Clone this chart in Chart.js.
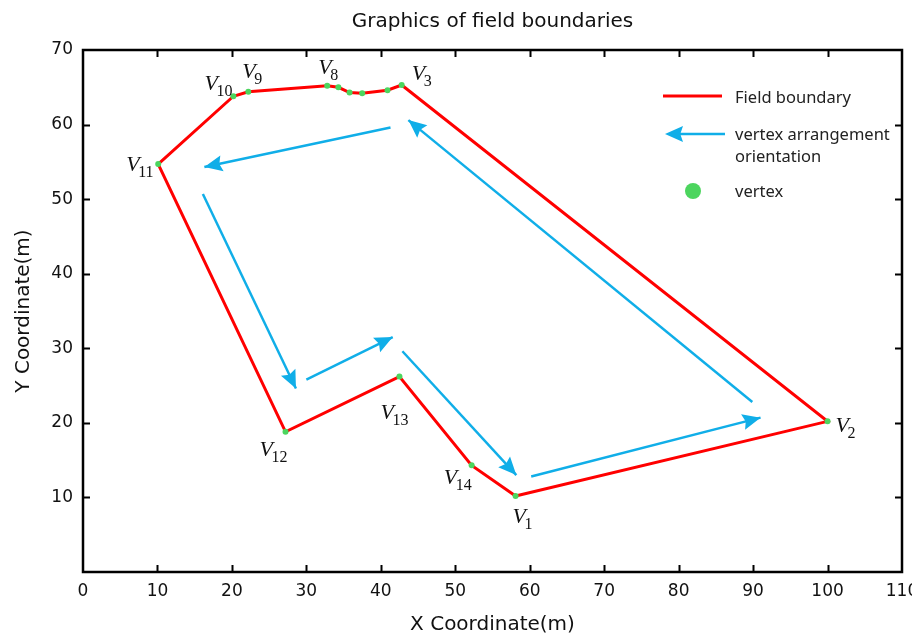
<!DOCTYPE html>
<html>
<head>
<meta charset="utf-8">
<script src="https://cdn.jsdelivr.net/npm/chart.js@4/dist/chart.umd.min.js"></script>
<style>
html,body{margin:0;padding:0;background:#fff;}
#wrap{width:912px;height:639px;}
</style>
</head>
<body>
<div id="wrap"><canvas id="c" width="912" height="639"></canvas></div>
<script>
// boundary vertices in drawing order (V1 .. V14, then back to V1)
const vertexX = [58.1, 100, 42.8, 40.9, 37.5, 35.8, 34.3, 32.8, 22.2, 20.2, 10.1, 27.2, 42.5, 52.2];
const vertexY = [10.2, 20.2, 65.3, 64.6, 64.2, 64.3, 65.0, 65.2, 64.4, 63.8, 54.7, 18.8, 26.2, 14.3];
const vertexNames = ['1', '2', '3', '', '', '', '', '8', '9', '10', '11', '12', '13', '14'];

// orientation arrows: start and tip
const arrowFromX = [60.2, 89.9, 41.3, 16.1, 30.0, 42.9];
const arrowFromY = [12.8, 22.8, 59.6, 50.7, 25.8, 29.6];
const arrowToX   = [91.0, 43.7, 16.3, 28.6, 41.6, 58.2];
const arrowToY   = [20.7, 60.6, 54.3, 24.6, 31.5, 13.0];

const xTicks = [0, 10, 20, 30, 40, 50, 60, 70, 80, 90, 100, 110];
const yTicks = [10, 20, 30, 40, 50, 60, 70];

const RED = '#ff0000', BLUE = '#10aee8', GREEN = '#4cd55e';

// label placement relative to the vertex pixel (V left edge, baseline)
const labelOffsets = {
  '1': [-3, 27], '2': [8, 11], '3': [10, -5], '8': [-9, -12], '9': [-6, -14],
  '10': [-29, -6], '11': [-32, 7], '12': [-26, 24], '13': [-19, 42], '14': [-28, 19]
};

const boundaryPts = vertexX.map((x, i) => ({x: x, y: vertexY[i]}));
boundaryPts.push({x: vertexX[0], y: vertexY[0]});

const datasets = [];
datasets.push({ label: 'vertex', data: vertexX.map((x, i) => ({x: x, y: vertexY[i]})),
  showLine: false, pointRadius: 3, pointBackgroundColor: GREEN, pointBorderWidth: 0, order: 0 });
datasets.push({ label: 'Field boundary', data: boundaryPts, showLine: true, borderColor: RED,
  borderWidth: 3, pointRadius: 0, tension: 0, order: 1 });
arrowFromX.forEach((x, i) => {
  datasets.push({ label: 'arrow', isArrow: true,
    data: [{x: x, y: arrowFromY[i]}, {x: arrowToX[i], y: arrowToY[i]}],
    showLine: true, borderColor: BLUE, borderWidth: 2.5, pointRadius: 0, order: 2 });
});

function drawHead(ctx, x0, y0, x1, y1, len, half, color){
  const a = Math.atan2(y1 - y0, x1 - x0);
  ctx.save();
  ctx.translate(x1, y1);
  ctx.rotate(a);
  ctx.fillStyle = color;
  ctx.beginPath();
  ctx.moveTo(0, 0);
  ctx.lineTo(-len, -half);
  ctx.lineTo(-len * 0.85, 0);
  ctx.lineTo(-len, half);
  ctx.closePath();
  ctx.fill();
  ctx.restore();
}

const decor = {
  id: 'decor',
  afterDatasetsDraw(chart){
    const ctx = chart.ctx;
    chart.data.datasets.forEach((ds, i) => {
      if(!ds.isArrow) return;
      const pts = chart.getDatasetMeta(i).data;
      drawHead(ctx, pts[0].x, pts[0].y, pts[1].x, pts[1].y, 18, 8, BLUE);
    });
    // vertex labels
    const xs = chart.scales.x, ys = chart.scales.y;
    ctx.save();
    ctx.fillStyle = '#111';
    ctx.textBaseline = 'alphabetic';
    ctx.textAlign = 'left';
    vertexNames.forEach((n, i) => {
      if(!n) return;
      const px = xs.getPixelForValue(vertexX[i]), py = ys.getPixelForValue(vertexY[i]);
      const off = labelOffsets[n];
      const lx = px + off[0], ly = py + off[1];
      ctx.font = 'italic 22px "Liberation Serif"';
      ctx.fillText('V', lx, ly);
      ctx.font = '16px "Liberation Serif"';
      ctx.fillText(n, lx + 12, ly + 6);
    });
    ctx.restore();
  },
  afterDraw(chart){
    const ctx = chart.ctx, a = chart.chartArea;
    const xs = chart.scales.x, ys = chart.scales.y;
    ctx.save();
    ctx.strokeStyle = '#000';
    ctx.lineWidth = 2.5;
    ctx.strokeRect(a.left, a.top, a.right - a.left, a.bottom - a.top);
    ctx.lineWidth = 2;
    ctx.beginPath();
    xTicks.forEach(v => {
      if(v === 0 || v === 110) return;
      const px = Math.round(xs.getPixelForValue(v)) + 0.5;
      ctx.moveTo(px, a.bottom); ctx.lineTo(px, a.bottom - 7);
      ctx.moveTo(px, a.top); ctx.lineTo(px, a.top + 7);
    });
    yTicks.forEach(v => {
      if(v === 70) return;
      const py = Math.round(ys.getPixelForValue(v)) + 0.5;
      ctx.moveTo(a.left, py); ctx.lineTo(a.left + 7, py);
      ctx.moveTo(a.right, py); ctx.lineTo(a.right - 7, py);
    });
    ctx.stroke();

    // legend
    ctx.font = '16.5px "Noto Sans"';
    ctx.fillStyle = '#222';
    ctx.textBaseline = 'middle';
    ctx.textAlign = 'left';
    ctx.strokeStyle = RED; ctx.lineWidth = 3;
    ctx.beginPath(); ctx.moveTo(663, 96); ctx.lineTo(722, 96); ctx.stroke();
    ctx.fillText('Field boundary', 735, 98);
    ctx.strokeStyle = BLUE; ctx.lineWidth = 2.5;
    ctx.beginPath(); ctx.moveTo(725, 134); ctx.lineTo(672, 134); ctx.stroke();
    drawHead(ctx, 725, 134, 665, 134, 18, 8, BLUE);
    ctx.fillText('vertex arrangement', 735, 135);
    ctx.fillText('orientation', 735, 157);
    ctx.fillStyle = GREEN;
    ctx.beginPath(); ctx.arc(693, 191, 8, 0, Math.PI * 2); ctx.fill();
    ctx.fillStyle = '#222';
    ctx.fillText('vertex', 735, 192);
    ctx.restore();
  }
};

new Chart(document.getElementById('c'), {
  type: 'scatter',
  data: { datasets: datasets },
  options: {
    responsive: false,
    animation: false,
    layout: { padding: { left: 0, right: 10, top: 0, bottom: 0 } },
    plugins: {
      legend: { display: false },
      tooltip: { enabled: false },
      title: { display: true, text: 'Graphics of field boundaries', fullSize: false, color: '#111',
        font: { family: 'DejaVu Sans', size: 20, weight: 'normal' }, padding: { top: 10, bottom: 16 } }
    },
    scales: {
      x: {
        type: 'linear', min: 0, max: 110,
        afterBuildTicks: s => { s.ticks = xTicks.map(v => ({value: v})); },
        afterFit: s => { s.height = 67; s.paddingLeft = 0; s.paddingRight = 0; },
        grid: { display: false },
        border: { display: false },
        ticks: { color: '#111', padding: 1, maxRotation: 0, autoSkip: false,
          font: { family: 'DejaVu Sans', size: 17 } },
        title: { display: true, text: 'X Coordinate(m)', color: '#111',
          font: { family: 'DejaVu Sans', size: 20 }, padding: { top: 0, bottom: 2 } }
      },
      y: {
        type: 'linear', min: 0, max: 70,
        afterBuildTicks: s => { s.ticks = yTicks.map(v => ({value: v})); },
        afterFit: s => { s.width = 83; s.paddingTop = 0; s.paddingBottom = 0; },
        grid: { display: false },
        border: { display: false },
        ticks: { color: '#111', padding: 2, autoSkip: false,
          font: { family: 'DejaVu Sans', size: 17 } },
        title: { display: true, text: 'Y Coordinate(m)', color: '#111',
          font: { family: 'DejaVu Sans', size: 20 }, padding: { top: 12, bottom: 0 } }
      }
    }
  },
  plugins: [decor]
});
</script>
</body>
</html>
